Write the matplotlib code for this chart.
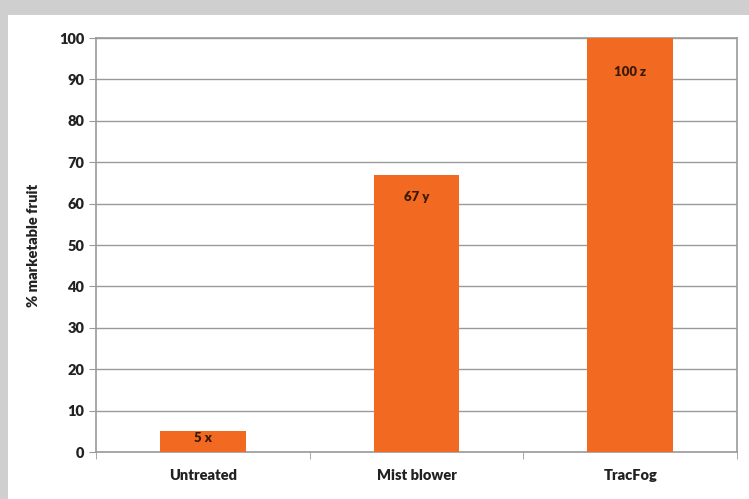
import matplotlib
matplotlib.use("Agg")
import matplotlib.pyplot as plt
from matplotlib.patches import Rectangle

categories = ["Untreated", "Mist blower", "TracFog"]
values = [5, 67, 100]
labels = ["5 x", "67 y", "100 z"]
label_y = [3.4, 61.5, 91.8]

plt.rcParams["font.family"] = ["Lato", "DejaVu Sans"]
plt.rcParams["font.weight"] = "heavy"

fig = plt.figure(figsize=(7.49, 4.99), dpi=100, facecolor="#cfcfcf")
# white panel inside the grey frame
fig.patches.append(Rectangle((8 / 749, 0), 1, 1 - 15 / 499, transform=fig.transFigure,
                             facecolor="white", edgecolor="none", zorder=-10))

ax = fig.add_axes([96 / 749, 47 / 499, 641 / 749, 414 / 499])
ax.set_facecolor("white")
x = range(len(categories))
ax.bar(x, values, width=0.40, color="#F26A22", zorder=3)
for xi, t, y in zip(x, labels, label_y):
    ax.text(xi, y, t, ha="center", va="center", fontsize=9.5, fontweight="heavy",
            color="#3b1a08", zorder=4)

ax.set_xlim(-0.5, 2.5)
ax.set_ylim(0, 100)
ax.set_yticks(range(0, 101, 10))
ax.yaxis.grid(True, color="#9a9a9a", linewidth=1.0, zorder=0)
ax.set_axisbelow(True)
ax.set_xticks(list(x))
ax.set_xticklabels(categories, fontsize=10.5, fontweight="heavy", color="#222222")
ax.set_xticks([-0.5, 0.5, 1.5, 2.5], minor=True)
ax.tick_params(axis="x", which="major", length=0, pad=12)
ax.tick_params(axis="x", which="minor", length=5, color="#999999")
ax.tick_params(axis="y", length=5, color="#999999", labelsize=10.5, labelcolor="#222222")
for lbl in ax.get_yticklabels():
    lbl.set_fontweight("heavy")
for s in ax.spines.values():
    s.set_color("#9a9a9a")
    s.set_linewidth(1.2)
ax.set_ylabel("% marketable fruit", fontsize=10.5, fontweight="heavy", color="#222222", labelpad=14)

fig.savefig("out.png", dpi=100, facecolor=fig.get_facecolor())
